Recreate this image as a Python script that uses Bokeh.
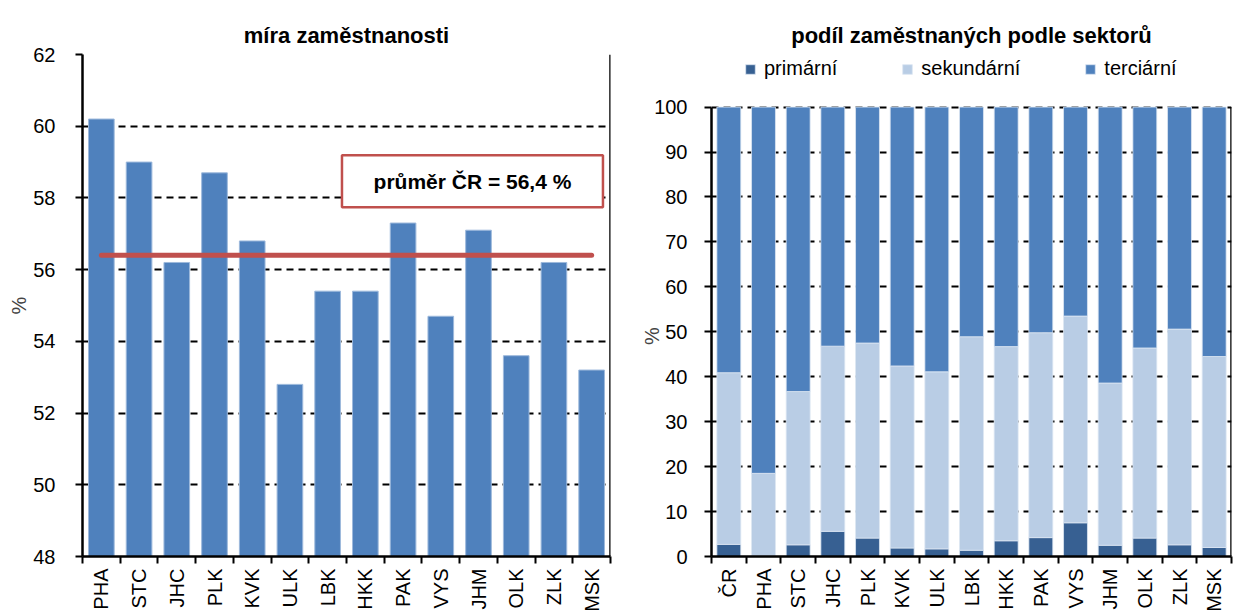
from math import pi
from bokeh.plotting import figure
from bokeh.layouts import row
from bokeh.models import (Range1d, FixedTicker, BoxAnnotation, Label,
                          Legend, LegendItem, ColumnDataSource)
from bokeh.embed import file_html
from bokeh.resources import INLINE

# ---------------- data ----------------
regions_left = ["PHA", "STC", "JHC", "PLK", "KVK", "ULK", "LBK", "HKK",
                "PAK", "VYS", "JHM", "OLK", "ZLK", "MSK"]
employment_rate = [60.2, 59.0, 56.2, 58.7, 56.8, 52.8, 55.4, 55.4,
                   57.3, 54.7, 57.1, 53.6, 56.2, 53.2]
cr_average = 56.4

regions_right = ["ČR", "PHA", "STC", "JHC", "PLK", "KVK", "ULK", "LBK",
                 "HKK", "PAK", "VYS", "JHM", "OLK", "ZLK", "MSK"]
primarni = [2.7, 0.1, 2.6, 5.6, 4.1, 1.9, 1.7, 1.4, 3.5, 4.2, 7.5, 2.5, 4.1, 2.6, 2.0]
sekundarni = [38.2, 18.4, 34.1, 41.2, 43.4, 40.5, 39.4, 47.5, 43.2, 45.6, 46.0, 36.1, 42.3, 48.0, 42.5]
terciarni = [59.1, 81.5, 63.3, 53.2, 52.5, 57.6, 58.9, 51.1, 53.3, 50.2, 46.5, 61.4, 53.6, 49.4, 55.5]
sector_names = ["primární", "sekundární", "terciární"]

FONT = "Liberation Sans"
C_BAR = "#4F81BD"
C_PRIM = "#376092"
C_SEK = "#B9CDE5"
C_RED = "#C0504D"
H = 614


def style_axes(p, n, ymin, ymax, ystep, labels, ylabel, tick_standoff,
               ylabel_standoff):
    centers = [i + 0.5 for i in range(n)]
    xa = p.xaxis[0]
    xa.ticker = FixedTicker(ticks=centers, minor_ticks=list(range(n + 1)))
    xa.major_label_overrides = {c: lab for c, lab in zip(centers, labels)}
    xa.major_tick_out = 0
    xa.major_tick_in = 0
    xa.minor_tick_out = 7
    xa.minor_tick_in = 0
    xa.minor_tick_line_color = "black"
    xa.minor_tick_line_width = 2
    xa.axis_line_color = "black"
    xa.axis_line_width = 2.5
    xa.major_label_orientation = pi / 2
    xa.major_label_standoff = 5
    xa.major_label_text_font = FONT
    xa.major_label_text_font_size = "20px"
    xa.major_label_text_color = "black"

    ya = p.yaxis[0]
    ya.ticker = FixedTicker(ticks=list(range(ymin, ymax + 1, ystep)))
    ya.bounds = (ymin, ymax)
    ya.major_tick_out = 7
    ya.major_tick_in = 0
    ya.major_tick_line_width = 2
    ya.major_tick_line_color = "black"
    ya.minor_tick_line_color = None
    ya.axis_line_color = "black"
    ya.axis_line_width = 2.5
    ya.major_label_text_font = FONT
    ya.major_label_text_font_size = "20px"
    ya.major_label_text_color = "black"
    ya.major_label_standoff = tick_standoff
    ya.axis_label = ylabel
    ya.axis_label_text_font = FONT
    ya.axis_label_text_font_size = "20px"
    ya.axis_label_text_font_style = "normal"
    ya.axis_label_standoff = ylabel_standoff

    p.xgrid.grid_line_color = None
    p.ygrid.grid_line_color = "black"
    p.ygrid.grid_line_dash = "7 5"
    p.ygrid.grid_line_width = 1.8
    p.outline_line_color = None
    # right border of the plot area
    p.segment(x0=[n], y0=[ymin], x1=[n], y1=[ymax], line_color="black",
              line_width=2.5)

    p.title.align = "center"
    p.title.vertical_align = "top"
    p.title.text_font = FONT
    p.title.text_font_size = "22px"
    p.title.text_font_style = "bold"
    p.title.text_color = "black"
    return centers


# ---------------- left chart ----------------
n1 = len(regions_left)
p1 = figure(width=630, height=H, x_range=Range1d(0, n1),
            y_range=Range1d(48, 62), output_backend="svg",
            toolbar_location=None, title="míra zaměstnanosti",
            min_border_left=82, min_border_right=20, min_border_top=54,
            min_border_bottom=55)
c1 = style_axes(p1, n1, 48, 62, 2, regions_left, "%", 20, 0)

p1.vbar(x=c1, top=employment_rate, bottom=48, width=0.68,
        fill_color=C_BAR, line_color="#9DB9DC", line_width=1)
p1.line(x=[c1[0], c1[-1]], y=[cr_average, cr_average], line_color=C_RED,
        line_width=5, line_cap="round")

p1.add_layout(BoxAnnotation(left=6.88, right=13.8, bottom=57.74, top=59.19,
                            fill_color="white", fill_alpha=1.0,
                            line_color=C_RED, line_width=2.5, line_alpha=1.0))
p1.add_layout(Label(x=10.34, y=58.46,
                    text=("průměr ČR = %.1f %%" % cr_average).replace(".", ","),
                    text_align="center", text_baseline="middle",
                    text_font=FONT, text_font_size="21px",
                    text_font_style="bold", text_color="black"))

# ---------------- right chart ----------------
# (frames of a row are aligned; the extra room above 100 holds the legend)
n2 = len(regions_right)
p2 = figure(width=604, height=H, x_range=Range1d(0, n2),
            y_range=Range1d(0, 111.7), output_backend="svg",
            toolbar_location=None, title="podíl zaměstnaných podle sektorů",
            min_border_left=81, min_border_right=3, min_border_top=54,
            min_border_bottom=55)
# non-breaking spaces shift the rotated "%" down to the middle of 0..100
c2 = style_axes(p2, n2, 0, 100, 10, regions_right,
                "%" + "\u00a0" * 11, 17, -12)

src = ColumnDataSource(dict(x=c2, prim=primarni, sek=sekundarni, ter=terciarni))
rs = p2.vbar_stack(["prim", "sek", "ter"], x="x", width=0.69, source=src,
                   fill_color=[C_PRIM, C_SEK, C_BAR],
                   line_color="#DCE6F2", line_width=0.8)

legend = Legend(items=[LegendItem(label=name, renderers=[r])
                       for name, r in zip(sector_names, rs)],
                orientation="horizontal", location=(33, 476),
                spacing=64, glyph_width=12, glyph_height=12,
                label_standoff=8, label_text_font=FONT,
                label_text_font_size="20px", label_text_color="black",
                border_line_color=None, background_fill_alpha=0,
                padding=0, margin=0)
p2.add_layout(legend)

layout = row(p1, p2)
open("out.html", "w").write(file_html(layout, INLINE))
